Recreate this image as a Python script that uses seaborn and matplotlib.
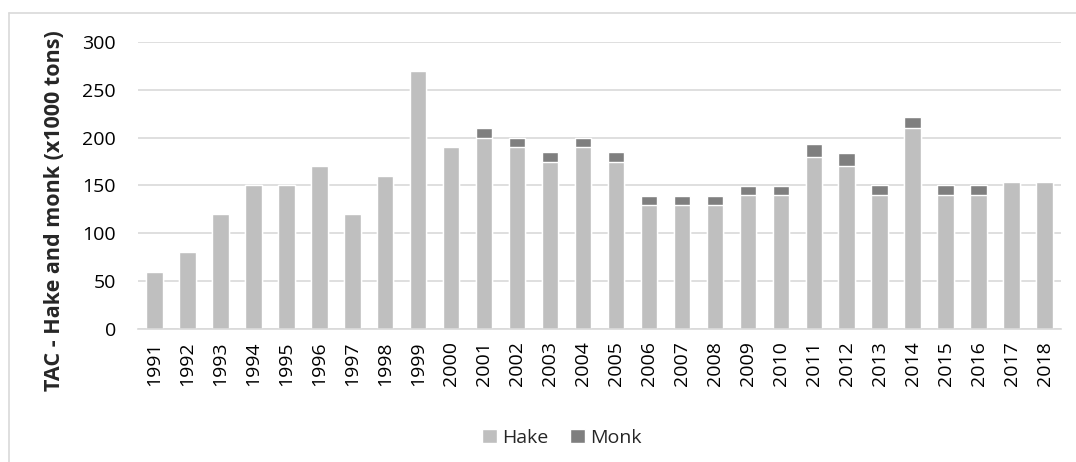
import matplotlib
matplotlib.use("Agg")
import matplotlib.pyplot as plt
from matplotlib.lines import Line2D
import seaborn as sns
import pandas as pd

# Total allowable catch, thousand tons
years = list(range(1991, 2019))
hake = [60, 80, 120, 150, 150, 170, 120, 160, 270, 190,
        200, 190, 175, 190, 175, 130, 130, 130, 140, 140,
        180, 170, 140, 210, 140, 140, 154, 154]
monk = [0, 0, 0, 0, 0, 0, 0, 0, 0, 0,
        10, 10, 10, 10, 10, 9, 9, 9, 9, 9,
        13, 14, 10, 12, 10, 10, 0, 0]

HAKE_COLOR = "#BFBFBF"
MONK_COLOR = "#7F7F7F"
GRID_COLOR = "#D9D9D9"

df = pd.DataFrame({"year": [str(y) for y in years], "hake": hake, "monk": monk})
df["total"] = df["hake"] + df["monk"]

sns.set_theme(style="white")
plt.rcParams["font.family"] = ["Open Sans", "DejaVu Sans"]

W, H = 1076, 462
fig = plt.figure(figsize=(W / 100, H / 100), dpi=100)
ax = fig.add_axes([138 / W, 1 - 329 / H, (1061 - 138) / W, (329 - 42) / H])

# Stacked bars: draw the total in the monk colour, then hake on top of it
sns.barplot(data=df, x="year", y="total", color=MONK_COLOR, width=0.5,
            saturation=1, ax=ax, label="Monk")
sns.barplot(data=df, x="year", y="hake", color=HAKE_COLOR, width=0.5,
            saturation=1, ax=ax, label="Hake")

ax.set_ylim(0, 300)
ax.set_xlim(-0.5, len(years) - 0.5)
ax.set_yticks(range(0, 301, 50))
ax.yaxis.grid(True, color=GRID_COLOR, linewidth=1.2)
ax.set_axisbelow(True)
for side in ("left", "right", "top"):
    ax.spines[side].set_visible(False)
ax.spines["bottom"].set_color(GRID_COLOR)
ax.spines["bottom"].set_linewidth(1.2)
ax.tick_params(axis="both", length=0, labelsize=14, colors="#000000")
ax.tick_params(axis="x", rotation=90, pad=9)
ax.tick_params(axis="y", pad=16)
ax.set_xlabel("")
ax.set_ylabel("")
if ax.get_legend() is not None:
    ax.get_legend().remove()

fig.text(55 / W, 1 - 211 / H, "TAC - Hake and monk (x1000 tons)", rotation=90,
         ha="center", va="center", fontsize=15.5, fontweight="bold")

handles, labels = ax.get_legend_handles_labels()
order = [labels.index("Hake"), labels.index("Monk")]
fig.legend([handles[i] for i in order], [labels[i] for i in order],
           loc="center", bbox_to_anchor=(562 / W, 1 - 438 / H), ncol=2,
           frameon=False, fontsize=14, handlelength=0.75, handleheight=0.75,
           columnspacing=1.1, handletextpad=0.3, borderpad=0.2)

# Chart frame (top and left edges)
fig.add_artist(Line2D([9 / W, 1], [1 - 13 / H, 1 - 13 / H], color=GRID_COLOR,
                      linewidth=1.2, transform=fig.transFigure))
fig.add_artist(Line2D([9 / W, 9 / W], [0, 1 - 13 / H], color=GRID_COLOR,
                      linewidth=1.2, transform=fig.transFigure))

fig.savefig("out.png", dpi=100)
